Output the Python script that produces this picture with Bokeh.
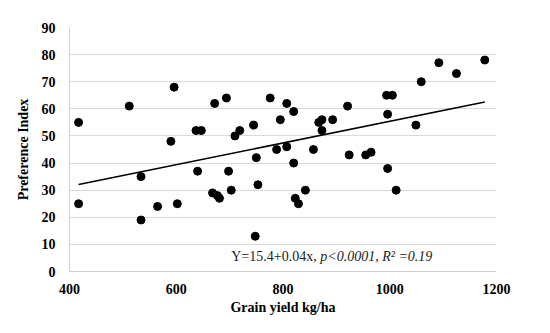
from bokeh.plotting import figure
from bokeh.models import Label, Range1d, FixedTicker
from bokeh.embed import file_html
from bokeh.resources import INLINE

grain_yield = [417, 417, 512, 534, 534, 565, 590, 596, 602, 637, 647, 640, 668, 672,
               677, 681, 694, 698, 703, 710, 719, 745, 750, 748, 753, 776, 788, 795,
               807, 807, 820, 820, 823, 829, 842, 857, 867, 873, 873, 893, 921, 924,
               955, 965, 994, 1005, 996, 996, 1012, 1049, 1059, 1092, 1125, 1178]
preference = [55, 25, 61, 35, 19, 24, 48, 68, 25, 52, 52, 37, 29, 62,
              28, 27, 64, 37, 30, 50, 52, 54, 42, 13, 32, 64, 45, 56,
              62, 46, 59, 40, 27, 25, 30, 45, 55, 56, 52, 56, 61, 43,
              43, 44, 65, 65, 58, 38, 30, 54, 70, 77, 73, 78]
intercept = 15.4
slope = 0.04
y_ticks = [0, 10, 20, 30, 40, 50, 60, 70, 80, 90]
x_ticks = [400, 600, 800, 1000, 1200]

FONT = "Liberation Serif"
W, H = 534, 317

p = figure(width=W, height=H, output_backend="svg", toolbar_location=None,
           x_range=Range1d(400, 1200), y_range=Range1d(0, 90),
           min_border_left=69, min_border_right=38, min_border_top=27, min_border_bottom=44)
p.outline_line_color = None
p.background_fill_color = "white"
p.border_fill_color = "white"

p.xgrid.grid_line_color = None
p.ygrid.grid_line_color = "#d9d9d9"
p.ygrid.grid_line_width = 1

p.xaxis.ticker = FixedTicker(ticks=x_ticks)
p.yaxis.ticker = FixedTicker(ticks=y_ticks)
for ax in (p.xaxis[0], p.yaxis[0]):
    ax.axis_line_color = "#d0d0d0"
    ax.major_tick_line_color = None
    ax.minor_tick_line_color = None
    ax.major_label_text_font = FONT
    ax.major_label_text_font_style = "bold"
    ax.major_label_text_font_size = "14px"
    ax.major_label_text_color = "black"
    ax.axis_label_text_font = FONT
    ax.axis_label_text_font_style = "bold"
    ax.axis_label_text_font_size = "14px"
    ax.axis_label_text_color = "black"

p.xaxis.axis_label = "Grain yield kg/ha"
p.yaxis.axis_label = "Preference Index"
p.xaxis.major_label_standoff = 6
p.yaxis.major_label_standoff = 8
p.xaxis.axis_label_standoff = 3
p.yaxis.axis_label_standoff = 8

x0, x1 = min(grain_yield), max(grain_yield)
p.line([x0, x1], [intercept + slope * x0, intercept + slope * x1], line_color="black", line_width=1.5)
p.scatter(grain_yield, preference, size=8, color="black")

p.add_layout(Label(x=703, y=5.4, text="Y=15.4+0.04x, ", text_font=FONT, text_font_size="14px",
                   text_baseline="middle", text_color="#222222"))
p.add_layout(Label(x=703, y=5.4, x_offset=89, text="p<0.0001, R² =0.19", text_font=FONT,
                   text_font_size="14px", text_font_style="italic", text_baseline="middle",
                   text_color="#222222"))

open("out.html", "w").write(file_html(p, INLINE))
